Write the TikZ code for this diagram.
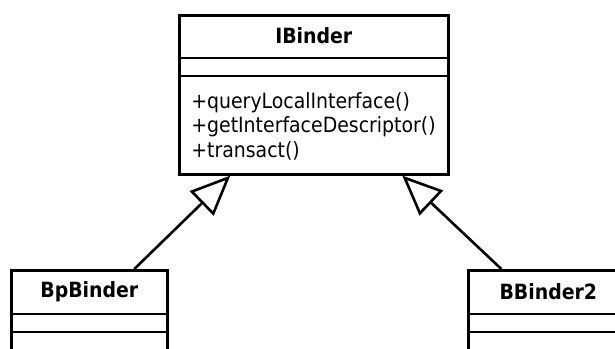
\documentclass[tikz,border=0pt]{standalone}
\usepackage{fontspec}
\setmainfont{DejaVu Sans Condensed}
\usetikzlibrary{arrows.meta}

\tikzset{
  classbox/.style={draw, inner sep=0pt, anchor=north west},
  classname/.style={font=\fontsize{21}{25}\selectfont\bfseries},
  member/.style={font=\fontsize{21}{25}\selectfont, anchor=base west, inner sep=0pt},
  inherits/.style={-{Triangle[open,length=40pt,width=34pt]}}
}

\begin{document}
\begin{tikzpicture}[x=1pt, y=-1pt, line width=2.6pt]
        \useasboundingbox (0,0) rectangle (615,348);
        \clip (0,0) rectangle (615,348);

        % IBinder
        \node[classbox, minimum width=269pt, minimum height=159pt] (ibinder) at (178,14) {};
        \node[classname] (ibinderName) at ([yshift=-22pt]ibinder.north) {IBinder};
        \draw ([yshift=-44pt]ibinder.north west) -- ([yshift=-44pt]ibinder.north east);
        \draw ([yshift=-62pt]ibinder.north west) -- ([yshift=-62pt]ibinder.north east);
        \node[member] (query) at (190,108) {+queryLocalInterface()};
        \node[member] (descriptor) at (190,132.5) {+getInterfaceDescriptor()};
        \node[member] (transact) at (190,157) {+transact()};

        % BpBinder
        \node[classbox, minimum width=156pt, minimum height=150pt] (bpbinder) at (10,269) {};
        \node[classname] (bpbinderName) at ([yshift=-22.5pt]bpbinder.north) {BpBinder};
        \draw ([yshift=-45pt]bpbinder.north west) -- ([yshift=-45pt]bpbinder.north east);
        \draw ([yshift=-63pt]bpbinder.north west) -- ([yshift=-63pt]bpbinder.north east);

        % BBinder2
        \node[classbox, minimum width=160pt, minimum height=150pt] (bbinder) at (467,269) {};
        \node[classname] (bbinderName) at ([yshift=-22.5pt]bbinder.north) {BBinder2};
        \draw ([yshift=-45pt]bbinder.north west) -- ([yshift=-45pt]bbinder.north east);
        \draw ([yshift=-63pt]bbinder.north west) -- ([yshift=-63pt]bbinder.north east);

        % Connections
        \draw[inherits] ([xshift=45pt]bpbinder.north) -- ([xshift=-83.5pt]ibinder.south);
        \draw[inherits] ([xshift=-47pt]bbinder.north) -- ([xshift=88.5pt]ibinder.south);
    \end{tikzpicture}
\end{document}
